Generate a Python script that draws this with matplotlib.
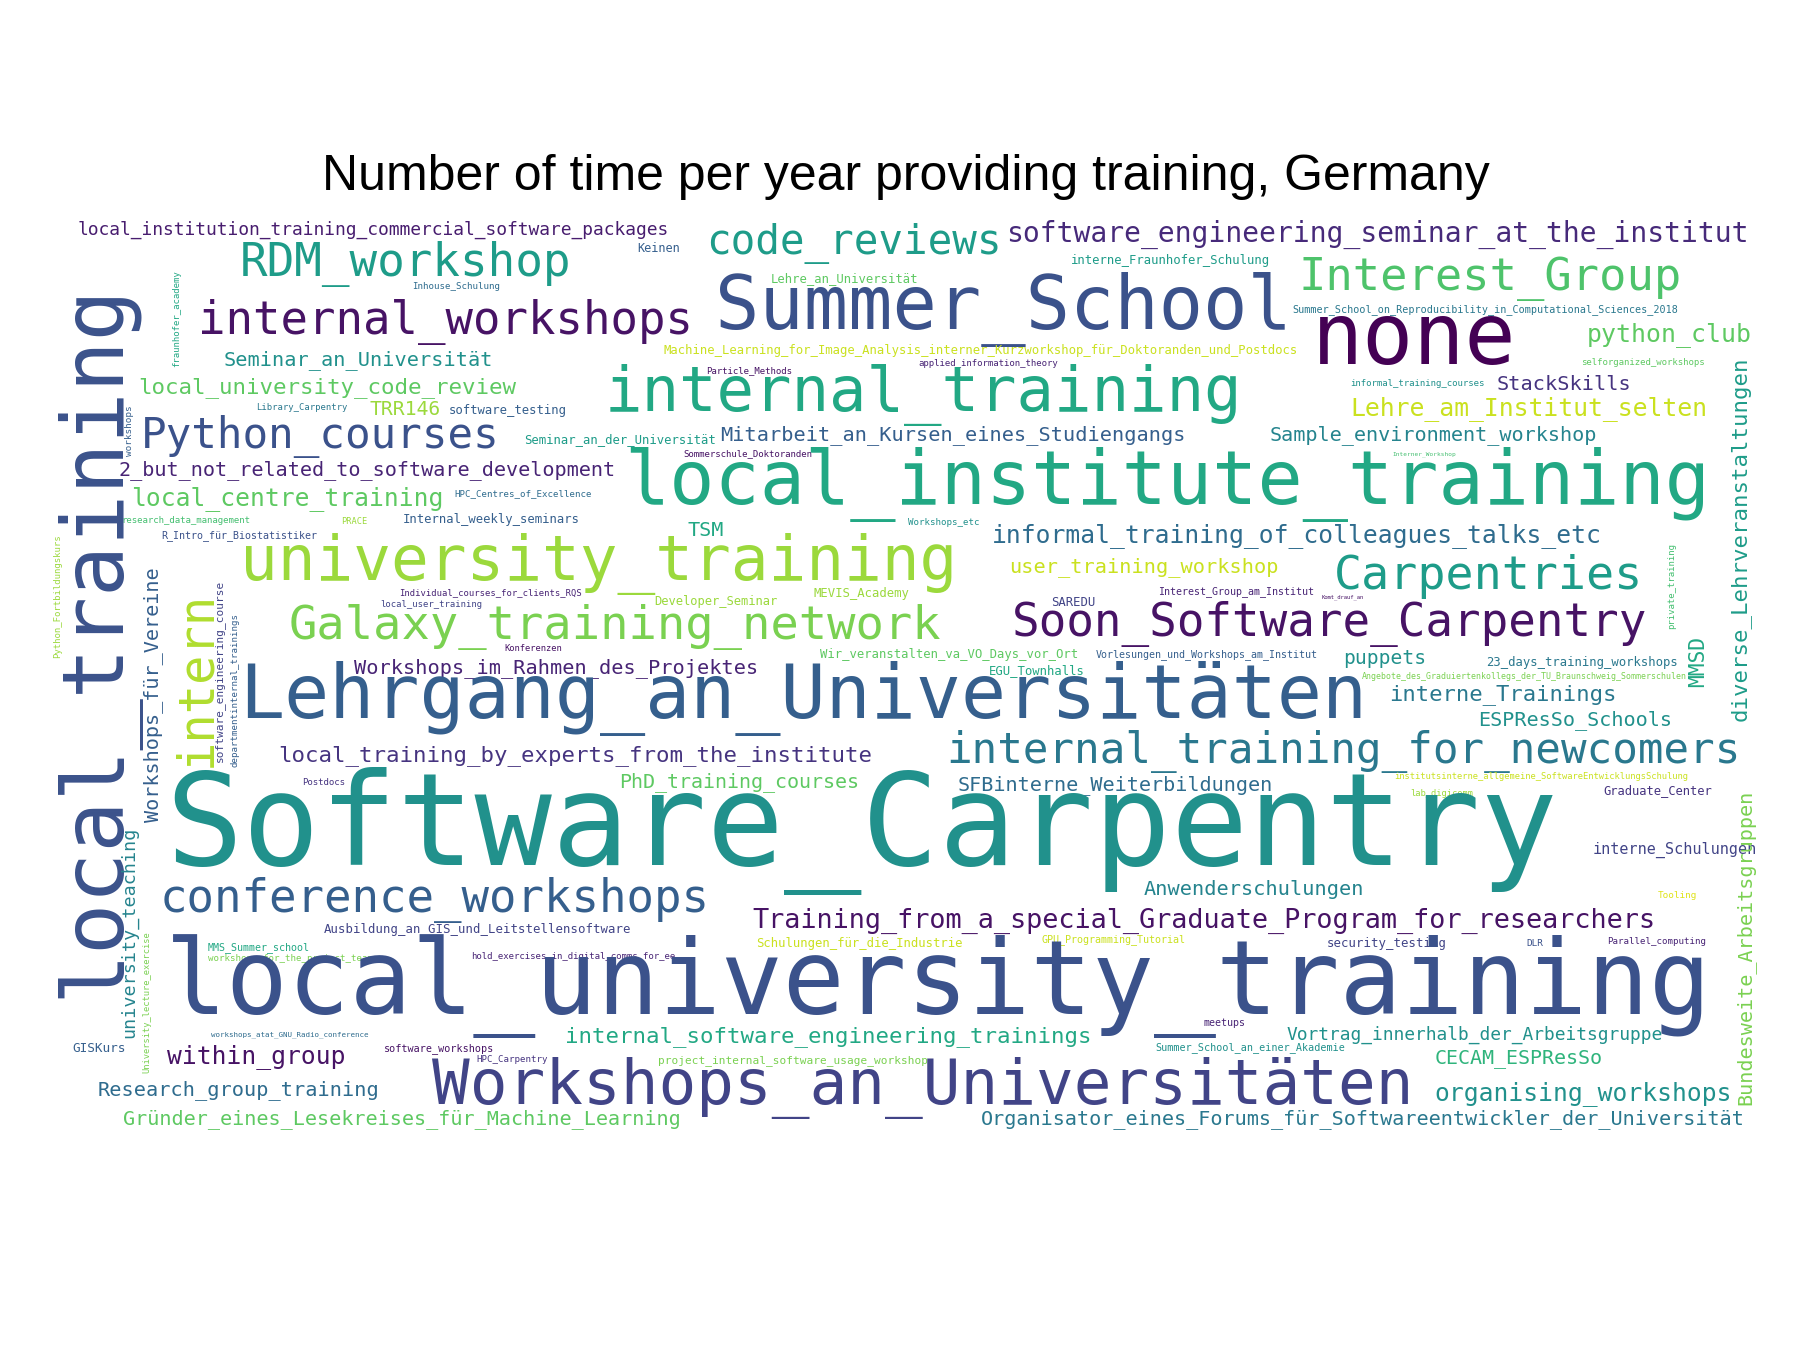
import matplotlib
matplotlib.use("Agg")
import matplotlib.pyplot as plt

# reference measured on a 1560x1170 grid
W, H = 1560.0, 1170.0
SCALE = 1800.0 / W

# word, x_left, x_right, y_center, viridis value
words = [
    ("local_institution_training_commercial_software_packages", 67, 590, 199, 0.08),
    ("Keinen", 552, 590, 215, 0.3),
    ("RDM_workshop", 208, 500, 229, 0.55),
    ("code_reviews", 612, 872, 211, 0.55),
    ("software_engineering_seminar_at_the_institut", 872, 1525, 203, 0.12),
    ("Inhouse_Schulung", 357, 435, 248, 0.35),
    ("Lehre_an_Universität", 668, 798, 241, 0.75),
    ("interne_Fraunhofer_Schulung", 928, 1104, 226, 0.55),
    ("Interest_Group", 1125, 1462, 242, 0.72),
    ("Summer_School", 620, 1128, 268, 0.25),
    ("internal_workshops", 172, 608, 279, 0.05),
    ("none", 1137, 1317, 295, 0.0),
    ("Summer_School_on_Reproducibility_in_Computational_Sciences_2018", 1120, 1460, 268, 0.4),
    ("python_club", 1375, 1520, 290, 0.75),
    ("Seminar_an_Universität", 194, 430, 312, 0.5),
    ("Machine_Learning_for_Image_Analysis_interner_Kurzworkshop_für_Doktoranden_und_Postdocs", 575, 1137, 304, 0.92),
    ("Particle_Methods", 612, 688, 321, 0.05),
    ("applied_information_theory", 796, 920, 315, 0.1),
    ("selforganized_workshops", 1370, 1480, 314, 0.75),
    ("internal_training", 524, 1087, 342, 0.6),
    ("local_university_code_review", 120, 454, 336, 0.75),
    ("informal_training_courses", 1170, 1290, 332, 0.5),
    ("StackSkills", 1297, 1415, 333, 0.15),
    ("Library_Carpentry", 222, 302, 353, 0.4),
    ("TRR146", 320, 383, 355, 0.85),
    ("software_testing", 389, 493, 356, 0.3),
    ("Lehre_am_Institut_selten", 1170, 1485, 354, 0.92),
    ("Python_courses", 122, 438, 378, 0.25),
    ("Seminar_an_der_Universität", 454, 624, 381, 0.55),
    ("Mitarbeit_an_Kursen_eines_Studiengangs", 624, 1032, 377, 0.3),
    ("Sample_environment_workshop", 1100, 1389, 377, 0.45),
    ("Sommerschule_Doktoranden", 592, 706, 393, 0.05),
    ("Interner_Workshop", 1207, 1262, 394, 0.7),
    ("2_but_not_related_to_software_development", 103, 541, 407, 0.1),
    ("local_institute_training", 541, 1497, 420, 0.6),
    ("local_centre_training", 114, 388, 432, 0.75),
    ("HPC_Centres_of_Excellence", 394, 515, 428, 0.35),
    ("research_data_management", 105, 219, 451, 0.7),
    ("PRACE", 296, 319, 452, 0.85),
    ("Internal_weekly_seminars", 349, 506, 450, 0.3),
    ("Workshops_etc", 787, 850, 453, 0.5),
    ("R_Intro_für_Biostatistiker", 140, 279, 464, 0.25),
    ("TSM", 596, 628, 460, 0.6),
    ("informal_training_of_colleagues_talks_etc", 860, 1396, 464, 0.35),
    ("university_training", 208, 840, 489, 0.85),
    ("user_training_workshop", 875, 1111, 491, 0.92),
    ("Carpentries", 1156, 1428, 500, 0.55),
    ("Individual_courses_for_clients_RQS", 346, 507, 514, 0.1),
    ("local_user_training", 330, 420, 524, 0.2),
    ("Developer_Seminar", 567, 677, 521, 0.85),
    ("MEVIS_Academy", 705, 790, 514, 0.85),
    ("SAREDU", 911, 950, 522, 0.2),
    ("Interest_Group_am_Institut", 1004, 1143, 513, 0.1),
    ("Komt_drauf_an", 1145, 1183, 518, 0.05),
    ("Soon_Software_Carpentry", 877, 1437, 541, 0.05),
    ("Galaxy_training_network", 250, 825, 543, 0.8),
    ("Konferenzen", 437, 488, 562, 0.05),
    ("Wir_veranstalten_va_VO_Days_vor_Ort", 711, 940, 567, 0.75),
    ("Vorlesungen_und_Workshops_am_Institut", 950, 1148, 567, 0.3),
    ("puppets", 1164, 1237, 571, 0.5),
    ("23_days_training_workshops", 1288, 1458, 574, 0.4),
    ("Workshops_im_Rahmen_des_Projektes", 307, 661, 579, 0.1),
    ("EGU_Townhalls", 857, 942, 581, 0.6),
    ("Angebote_des_Graduiertenkollegs_der_TU_Braunschweig_Sommerschulen", 1180, 1465, 586, 0.8),
    ("Lehrgang_an_Universitäten", 207, 1200, 605, 0.3),
    ("interne_Trainings", 1204, 1405, 602, 0.4),
    ("ESPResSo_Schools", 1281, 1452, 624, 0.5),
    ("local_training_by_experts_from_the_institute", 241, 764, 655, 0.15),
    ("internal_training_for_newcomers", 820, 1519, 651, 0.4),
    ("Postdocs", 262, 300, 678, 0.15),
    ("PhD_training_courses", 537, 750, 678, 0.75),
    ("SFBinterne_Weiterbildungen", 830, 1108, 680, 0.35),
    ("institutsinterne_allgemeine_SoftwareEntwicklungsSchulung", 1208, 1470, 673, 0.92),
    ("Graduate_Center", 1390, 1487, 685, 0.15),
    ("lab_digicomm", 1222, 1278, 688, 0.85),
    ("Software_Carpentry", 143, 1370, 720, 0.5),
    ("interne_Schulungen", 1380, 1525, 737, 0.2),
    ("conference_workshops", 138, 624, 780, 0.3),
    ("Anwenderschulungen", 991, 1184, 771, 0.45),
    ("Tooling", 1437, 1472, 776, 0.95),
    ("Ausbildung_an_GIS_und_Leitstellensoftware", 281, 550, 806, 0.2),
    ("Training_from_a_special_Graduate_Program_for_researchers", 652, 1452, 798, 0.05),
    ("MMS_Summer_school", 180, 270, 821, 0.6),
    ("Schulungen_für_die_Industrie", 655, 838, 818, 0.92),
    ("GPU_Programming_Tutorial", 903, 1030, 814, 0.92),
    ("security_testing", 1150, 1255, 818, 0.2),
    ("DLR", 1323, 1338, 818, 0.25),
    ("Parallel_computing", 1393, 1480, 816, 0.1),
    ("workshops_for_the_project_team", 180, 325, 831, 0.8),
    ("hold_exercises_in_digital_comms_for_ee", 408, 589, 829, 0.1),
    ("local_university_training", 143, 1505, 855, 0.25),
    ("meetups", 1043, 1080, 887, 0.1),
    ("workshops_atat_GNU_Radio_conference", 183, 322, 897, 0.35),
    ("internal_software_engineering_trainings", 490, 954, 898, 0.6),
    ("Vortrag_innerhalb_der_Arbeitsgruppe", 1115, 1448, 897, 0.5),
    ("GISKurs", 63, 110, 909, 0.3),
    ("software_workshops", 333, 430, 909, 0.05),
    ("Summer_School_an_einer_Akademie", 1001, 1167, 908, 0.5),
    ("within_group", 145, 302, 916, 0.05),
    ("HPC_Carpentry", 413, 476, 918, 0.15),
    ("project_internal_software_usage_workshop", 570, 806, 919, 0.8),
    ("CECAM_ESPResSo", 1243, 1392, 917, 0.65),
    ("Workshops_an_Universitäten", 374, 1238, 943, 0.2),
    ("Research_group_training", 85, 332, 945, 0.35),
    ("organising_workshops", 1243, 1505, 948, 0.5),
    ("Gründer_eines_Lesekreises_für_Machine_Learning", 107, 600, 970, 0.75),
    ("Organisator_eines_Forums_für_Softwareentwickler_der_Universität", 850, 1525, 970, 0.4),
]

# vertical words: word, x_center, y_bottom, y_top, viridis value
vwords = [
    ("local_training", 82, 865, 235, 0.25),
    ("fraunhofer_academy", 153, 318, 232, 0.6),
    ("workshops", 112, 395, 350, 0.3),
    ("intern", 170, 665, 510, 0.88),
    ("Workshops_für_Vereine", 133, 712, 487, 0.3),
    ("software_engineering_course", 190, 660, 500, 0.2),
    ("departmentinternal_trainings", 204, 665, 530, 0.3),
    ("Python_Fortbildungskurs", 50, 570, 460, 0.85),
    ("university_teaching", 112, 900, 715, 0.45),
    ("University_lecture_exercise", 127, 930, 805, 0.8),
    ("diverse_Lehrveranstaltungen", 1508, 625, 305, 0.55),
    ("private_training", 1449, 545, 468, 0.7),
    ("MMSD", 1472, 595, 550, 0.6),
    ("Bundesweite_Arbeitsgruppen", 1513, 958, 680, 0.8),
]

cmap = plt.get_cmap("viridis")
ADV = 0.612  # DejaVu Sans Mono advance per em (slightly padded)


def to_pt(span, n):
    px = span / (ADV * n) * SCALE
    return px * 72 / 150


fig = plt.figure(figsize=(12, 9), dpi=150)
fig.text(785 / W, 1 - 153 / H, "Number of time per year providing training, Germany",
         ha="center", va="center", fontsize=24, family="Liberation Sans")

for w, x0, x1, yc, v in words:
    fig.text(x0 / W, 1 - yc / H, w, ha="left", va="center",
             fontsize=to_pt(x1 - x0, len(w)), family="DejaVu Sans Mono", color=cmap(v))

for w, xc, y0, y1, v in vwords:
    fig.text(xc / W, 1 - y0 / H, w, ha="center", va="bottom", rotation=90,
             fontsize=to_pt(y0 - y1, len(w)), family="DejaVu Sans Mono", color=cmap(v))

fig.savefig("out.png", dpi=150, facecolor="white")
